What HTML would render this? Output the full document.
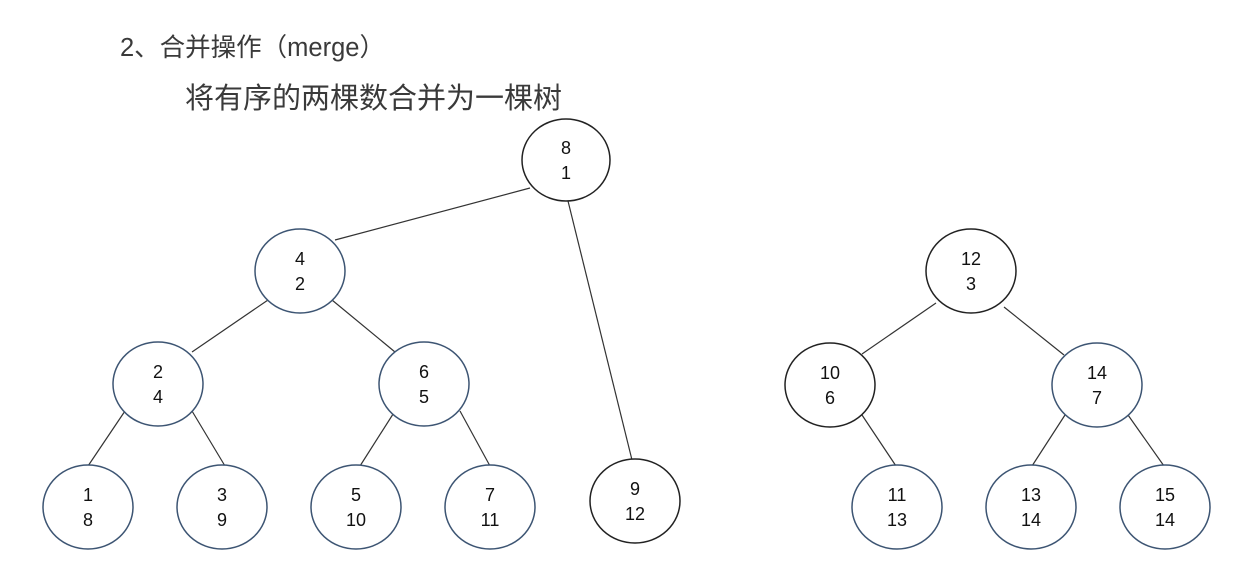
<!DOCTYPE html>
<html><head><meta charset="utf-8"><style>
html,body{margin:0;padding:0;background:#fff;}
svg{display:block;}
</style></head><body>
<svg width="1237" height="583" viewBox="0 0 1237 583" xmlns="http://www.w3.org/2000/svg">
<text x="120" y="56" font-family="Liberation Sans, Noto Sans CJK SC, sans-serif" font-size="25.5" fill="#3a3a3a">2、合并操作（merge）</text>
<text x="185" y="108" font-family="Liberation Sans, Noto Sans CJK SC, sans-serif" font-size="29" fill="#3a3a3a">将有序的两棵数合并为一棵树</text>
<g stroke="#333" stroke-width="1.2" fill="none">
<line x1="530" y1="188" x2="335" y2="240"/>
<line x1="568" y1="201" x2="632" y2="460"/>
<line x1="268" y1="300" x2="192" y2="352"/>
<line x1="332" y1="300" x2="395" y2="352"/>
<line x1="125" y1="411" x2="88" y2="466"/>
<line x1="192" y1="411" x2="225" y2="466"/>
<line x1="395" y1="411" x2="360" y2="466"/>
<line x1="460" y1="411" x2="490" y2="466"/>
<line x1="936" y1="303" x2="862" y2="354"/>
<line x1="1004" y1="307" x2="1064" y2="355"/>
<line x1="862" y1="415" x2="896" y2="466"/>
<line x1="1065" y1="415" x2="1032" y2="466"/>
<line x1="1128" y1="415" x2="1164" y2="466"/>
</g>
<g font-family="Liberation Sans, sans-serif" font-size="18" fill="#111" text-anchor="middle">
<g fill="#fff" stroke-width="1.5">
<ellipse cx="566" cy="160" rx="44" ry="41" stroke="#222"/>
<ellipse cx="300" cy="271" rx="45" ry="42" stroke="#3d5573"/>
<ellipse cx="158" cy="384" rx="45" ry="42" stroke="#3d5573"/>
<ellipse cx="424" cy="384" rx="45" ry="42" stroke="#3d5573"/>
<ellipse cx="88" cy="507" rx="45" ry="42" stroke="#3d5573"/>
<ellipse cx="222" cy="507" rx="45" ry="42" stroke="#3d5573"/>
<ellipse cx="356" cy="507" rx="45" ry="42" stroke="#3d5573"/>
<ellipse cx="490" cy="507" rx="45" ry="42" stroke="#3d5573"/>
<ellipse cx="635" cy="501" rx="45" ry="42" stroke="#222"/>
<ellipse cx="971" cy="271" rx="45" ry="42" stroke="#222"/>
<ellipse cx="830" cy="385" rx="45" ry="42" stroke="#222"/>
<ellipse cx="1097" cy="385" rx="45" ry="42" stroke="#3d5573"/>
<ellipse cx="897" cy="507" rx="45" ry="42" stroke="#3d5573"/>
<ellipse cx="1031" cy="507" rx="45" ry="42" stroke="#3d5573"/>
<ellipse cx="1165" cy="507" rx="45" ry="42" stroke="#3d5573"/>
</g>
<text x="566" y="154">8</text><text x="566" y="179">1</text>
<text x="300" y="265">4</text><text x="300" y="290">2</text>
<text x="158" y="378">2</text><text x="158" y="403">4</text>
<text x="424" y="378">6</text><text x="424" y="403">5</text>
<text x="88" y="501">1</text><text x="88" y="526">8</text>
<text x="222" y="501">3</text><text x="222" y="526">9</text>
<text x="356" y="501">5</text><text x="356" y="526">10</text>
<text x="490" y="501">7</text><text x="490" y="526">11</text>
<text x="635" y="495">9</text><text x="635" y="520">12</text>
<text x="971" y="265">12</text><text x="971" y="290">3</text>
<text x="830" y="379">10</text><text x="830" y="404">6</text>
<text x="1097" y="379">14</text><text x="1097" y="404">7</text>
<text x="897" y="501">11</text><text x="897" y="526">13</text>
<text x="1031" y="501">13</text><text x="1031" y="526">14</text>
<text x="1165" y="501">15</text><text x="1165" y="526">14</text>
</g>
</svg>
</body></html>
